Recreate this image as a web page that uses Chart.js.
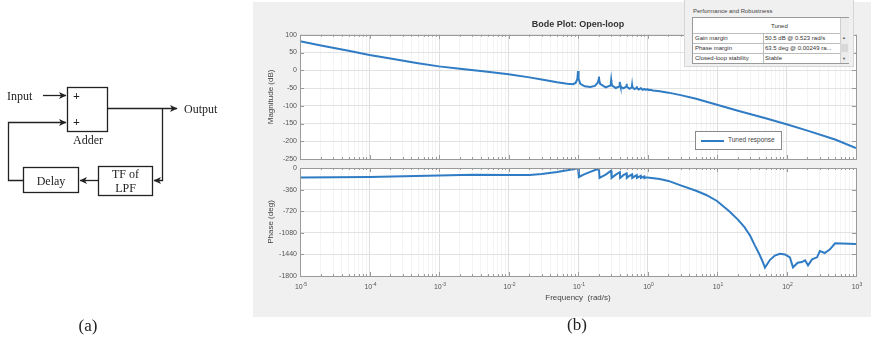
<!DOCTYPE html>
<html>
<head>
<meta charset="utf-8">
<script src="https://cdn.jsdelivr.net/npm/chart.js@4.4.1/dist/chart.umd.min.js"></script>
<style>
  html, body { margin: 0; padding: 0; background: #ffffff; }
  #wrap { position: relative; width: 871px; height: 340px; overflow: hidden; }
  #panel { position: absolute; left: 253px; top: 2px; width: 618px; height: 315px; background: #f0f0f0; }
  canvas { position: absolute; left: 0; top: 0; }
  .t { position: absolute; font-family: 'Liberation Sans', Arial, sans-serif; color: #333; white-space: nowrap; }
</style>
</head>
<body>
<div id="wrap">
  <div id="panel"></div>
  <canvas id="mag" width="871" height="340"></canvas>
  <canvas id="pha" width="871" height="340"></canvas>

  <!-- Legend -->
  <div style="position:absolute;left:695px;top:131px;width:85px;height:17px;background:#fff;border:1px solid #8a8a8a;">
    <div style="position:absolute;left:5px;top:8px;width:23px;height:2px;background:#2f7cc4;"></div>
    <div class="t" id="legendText" style="left:32px;top:4px;font-size:6.5px;color:#444;"></div>
  </div>

  <!-- Performance and Robustness panel -->
  <div style="position:absolute;left:684px;top:0px;width:168px;height:66px;background:#f0f0f0;border:1px solid #d6d6d6;border-top:none;">
    <div class="t" style="left:8px;top:8px;font-size:6px;color:#444;">Performance and Robustness</div>
    <div style="position:absolute;left:7px;top:17px;width:155px;height:45px;background:#fff;border:1px solid #9a9a9a;">
      <div style="position:absolute;left:0;top:15px;width:147px;height:1px;background:#bdbdbd;"></div>
      <div style="position:absolute;left:0;top:25px;width:147px;height:1px;background:#bdbdbd;"></div>
      <div style="position:absolute;left:0;top:35px;width:147px;height:1px;background:#bdbdbd;"></div>
      <div style="position:absolute;left:70px;top:15px;width:1px;height:30px;background:#bdbdbd;"></div>
      <div style="position:absolute;left:147px;top:0;width:8px;height:45px;background:#ececec;border-left:1px solid #cfcfcf;"></div>
      <div style="position:absolute;left:147px;top:26px;width:8px;height:8px;background:#d9d9d9;"></div>
      <div class="t" style="left:149px;top:17px;font-size:4px;color:#555;">▲</div>
      <div class="t" style="left:149px;top:38px;font-size:4px;color:#555;">▼</div>
      <div class="t" style="left:78px;top:5px;font-size:6px;">Tuned</div>
      <div class="t" style="left:2px;top:17px;font-size:6px;">Gain margin</div>
      <div class="t" style="left:2px;top:27px;font-size:6px;">Phase margin</div>
      <div class="t" style="left:2px;top:37px;font-size:6px;">Closed-loop stability</div>
      <div class="t" style="left:72px;top:17px;font-size:6px;">50.5 dB @ 0.523 rad/s</div>
      <div class="t" style="left:72px;top:27px;font-size:6px;">63.5 deg @ 0.00249 ra...</div>
      <div class="t" style="left:72px;top:37px;font-size:6px;">Stable</div>
    </div>
  </div>

  <!-- Block diagram (a) -->
  <svg style="position:absolute;left:0;top:0" width="253" height="340" xmlns="http://www.w3.org/2000/svg">
    <defs>
      <marker id="ah" markerWidth="8" markerHeight="8" refX="7" refY="4" orient="auto" markerUnits="userSpaceOnUse">
        <path d="M0,0.5 L7.5,4 L0,7.5 L2,4 Z" fill="#222"/>
      </marker>
    </defs>
    <g stroke="#222" stroke-width="1.3" fill="none">
      <rect x="67.5" y="87.5" width="40" height="44"/>
      <rect x="98.5" y="166.5" width="54" height="29"/>
      <rect x="23.5" y="167.5" width="55" height="25"/>
      <line x1="43" y1="95.5" x2="66" y2="95.5" marker-end="url(#ah)"/>
      <line x1="107.5" y1="108.5" x2="177" y2="108.5" marker-end="url(#ah)"/>
      <polyline points="162.5,108.5 162.5,180.5 154,180.5" marker-end="url(#ah)"/>
      <line x1="98.5" y1="180.5" x2="80" y2="180.5" marker-end="url(#ah)"/>
      <polyline points="23.5,180.5 8.5,180.5 8.5,122.5 66,122.5" marker-end="url(#ah)"/>
    </g>
    <g font-family="'Liberation Serif', 'DejaVu Serif', serif" fill="#222">
      <text x="7" y="99.5" font-size="12">Input</text>
      <text x="73" y="100" font-size="12" font-weight="bold">+</text>
      <text x="73" y="126" font-size="12" font-weight="bold">+</text>
      <text x="88" y="144" font-size="12" text-anchor="middle">Adder</text>
      <text x="184" y="112.5" font-size="12">Output</text>
      <text x="125.5" y="178" font-size="12" text-anchor="middle">TF of</text>
      <text x="125.5" y="192" font-size="12" text-anchor="middle">LPF</text>
      <text x="51" y="184.5" font-size="12" text-anchor="middle">Delay</text>
      <text x="88" y="331" font-size="17" text-anchor="middle">(a)</text>
      <text x="0" y="0" font-size="1"></text>
    </g>
  </svg>
  <div class="t" style="left:567px;top:315px;font-family:'Liberation Serif',serif;font-size:17px;color:#222;">(b)</div>
</div>

<script>
// ---------------- Data ----------------
const seriesLabel = 'Tuned response';

const freqDecades = [1e-5, 1e-4, 1e-3, 1e-2, 1e-1, 1e0, 1e1, 1e2, 1e3];
const freqTickBase = '10';
const freqTickExponents = ['-5', '-4', '-3', '-2', '-1', '0', '1', '2', '3'];
const magTicks = [100, 50, 0, -50, -100, -150, -200, -250];
const phaseTicks = [0, -360, -720, -1080, -1440, -1800];

const magFreq = [1e-5, 2e-5, 5e-5, 1e-4, 2e-4, 5e-4, 1e-3, 2e-3, 5e-3, 1e-2, 2e-2, 3e-2, 5e-2, 7e-2,
  0.085, 0.093, 0.098, 0.1, 0.102, 0.108, 0.125, 0.15, 0.175, 0.192, 0.198, 0.2, 0.202, 0.208,
  0.25, 0.29, 0.297, 0.3, 0.303, 0.31, 0.35, 0.39, 0.397, 0.4, 0.403, 0.41, 0.45, 0.495, 0.5, 0.505,
  0.55, 0.595, 0.6, 0.605, 0.65, 0.695, 0.7, 0.705, 0.75, 0.795, 0.8, 0.805, 0.85, 0.895, 0.9, 0.905,
  0.95, 1.0, 1.05, 1.1, 1.2, 1.5, 2, 3, 5, 10, 20, 50, 100, 200, 500, 1000];
const magDb = [82, 70, 55, 43, 33, 20, 11, 4, -4, -11, -20, -26, -34, -38,
  -39, -35, -24, -2, -24, -38, -45, -47, -44, -35, -27, -18, -27, -38,
  -48, -43, -35, -27, -35, -43, -50, -46, -40, -33, -40, -46, -51, -46, -38, -46,
  -52, -48, -42, -48, -53, -50, -45, -50, -54, -51, -48, -51, -55, -53, -50, -53,
  -55, -53, -56, -55, -57, -59, -63, -70, -80, -97, -114, -135, -152, -170, -195, -219];

const phaseFreq = [1e-5, 1e-4, 1e-3, 3e-3, 1e-2, 2e-2, 3e-2, 5e-2, 7e-2, 0.09, 0.1, 0.103,
  0.12, 0.15, 0.18, 0.2, 0.204, 0.25, 0.3, 0.304, 0.35, 0.4, 0.404, 0.45, 0.5, 0.504,
  0.55, 0.6, 0.604, 0.65, 0.7, 0.704, 0.75, 0.8, 0.804, 0.85, 0.9, 0.904, 0.95, 1.0,
  1.5, 2, 3, 5, 7, 10, 15, 20, 25, 30, 35, 40, 45, 49, 58, 68, 80, 95, 112, 124,
  145, 166, 185, 204, 233, 275, 302, 355, 422, 500, 1000];
const phaseDeg = [-160, -150, -125, -112, -117, -115, -100, -65, -38, -15, -2, -150,
  -110, -65, -30, -8, -165, -110, -45, -165, -110, -70, -165, -120, -90, -165,
  -130, -105, -165, -140, -120, -165, -148, -130, -165, -153, -140, -168, -160, -160,
  -185, -215, -290, -380, -450, -550, -720, -860, -990, -1130, -1290, -1420, -1550, -1660, -1530, -1460, -1430, -1440, -1490, -1655,
  -1580, -1567, -1539, -1622, -1522, -1489, -1384, -1417, -1356, -1256, -1265];

// ---------------- Styling ----------------
const BLUE = '#2f7cc4';
const FONT = "'Liberation Sans', Arial, sans-serif";
const LABEL = '#555555';
const FRAME = '#9a9a9a';

document.getElementById('legendText').textContent = seriesLabel;

function logTicks(scale) {
  const t = [];
  freqDecades.forEach((d, i) => {
    t.push({ value: d, major: true });
    if (i < freqDecades.length - 1) {
      for (let m = 2; m <= 9; m++) t.push({ value: d * m, major: false });
    }
  });
  scale.ticks = t;
}

const framePlugin = {
  id: 'frame',
  beforeDraw(chart) {
    const a = chart.chartArea, c = chart.ctx;
    c.save(); c.fillStyle = '#ffffff'; c.fillRect(a.left, a.top, a.right - a.left, a.bottom - a.top); c.restore();
  },
  afterDraw(chart, args, opts) {
    const a = chart.chartArea, c = chart.ctx;
    c.save();
    c.strokeStyle = FRAME; c.lineWidth = 1;
    c.beginPath();
    const xs = chart.scales.x;
    xs.ticks.forEach(t => {
      const px = Math.round(xs.getPixelForValue(t.value)) + 0.5;
      const len = t.major ? 4 : 2;
      c.moveTo(px, a.top); c.lineTo(px, a.top + len);
      c.moveTo(px, a.bottom); c.lineTo(px, a.bottom - len);
    });
    const ys = chart.scales.y;
    ys.ticks.forEach(t => {
      const py = Math.round(ys.getPixelForValue(t.value)) + 0.5;
      c.moveTo(a.left, py); c.lineTo(a.left + 4, py);
      c.moveTo(a.right, py); c.lineTo(a.right - 4, py);
    });
    c.stroke();
    c.strokeRect(Math.round(a.left) + 0.5, Math.round(a.top) + 0.5, Math.round(a.right - a.left), Math.round(a.bottom - a.top));
    // decade tick labels with superscript exponents
    if (opts && opts.xLabels) {
      c.fillStyle = LABEL;
      c.textBaseline = 'alphabetic';
      freqDecades.forEach((d, i) => {
        const px = xs.getPixelForValue(d);
        c.font = "7px " + FONT;
        const bw = c.measureText(freqTickBase).width;
        c.font = "5px " + FONT;
        const ew = c.measureText(freqTickExponents[i]).width;
        const x0 = px - (bw + ew) / 2 + 1;
        c.font = "7px " + FONT;
        c.textAlign = 'left';
        c.fillText(freqTickBase, x0, a.bottom + 13);
        c.font = "5px " + FONT;
        c.fillText(freqTickExponents[i], x0 + bw, a.bottom + 9.5);
      });
    }
    c.restore();
  }
};

const gridX = { color: ctx => (ctx.tick && ctx.tick.major) ? '#dedede' : '#f4f4f4', drawTicks: false, lineWidth: 1 };
const gridY = { color: '#e2e2e2', drawTicks: false, lineWidth: 1 };

new Chart(document.getElementById('mag'), {
  type: 'line',
  data: { datasets: [{ label: seriesLabel, data: magFreq.map((f, i) => ({ x: f, y: magDb[i] })),
    borderColor: BLUE, borderWidth: 2, pointRadius: 0, tension: 0, fill: false }] },
  options: {
    responsive: false, animation: false, events: [],
    layout: { padding: { left: 262, right: 15, top: 18, bottom: 181 } },
    plugins: {
      legend: { display: false }, tooltip: { enabled: false },
      frame: { xLabels: false },
      title: { display: true, fullSize: false, text: 'Bode Plot: Open-loop', color: '#333',
        font: { family: FONT, size: 9, weight: 'bold' }, padding: { top: 1, bottom: 5 } }
    },
    scales: {
      x: { type: 'logarithmic', min: 1e-5, max: 1e3, afterBuildTicks: logTicks,
        ticks: { display: false }, grid: gridX, border: { display: false },
        afterFit: s => { s.height = 0; } },
      y: { type: 'linear', min: -250, max: 100,
        afterBuildTicks: s => { s.ticks = magTicks.map(v => ({ value: v })); },
        ticks: { color: LABEL, font: { family: FONT, size: 7 }, padding: 3, callback: v => String(v) },
        grid: gridY, border: { display: false },
        title: { display: true, text: 'Magnitude (dB)', color: '#444', font: { family: FONT, size: 8 }, padding: { top: 4, bottom: 4 } },
        afterFit: s => { s.width = 38; } }
    }
  },
  plugins: [framePlugin]
});

new Chart(document.getElementById('pha'), {
  type: 'line',
  data: { datasets: [{ label: seriesLabel, data: phaseFreq.map((f, i) => ({ x: f, y: phaseDeg[i] })),
    borderColor: BLUE, borderWidth: 2, pointRadius: 0, tension: 0, fill: false }] },
  options: {
    responsive: false, animation: false, events: [],
    layout: { padding: { left: 262, right: 15, top: 168, bottom: 33 } },
    plugins: { legend: { display: false }, tooltip: { enabled: false }, frame: { xLabels: true } },
    scales: {
      x: { type: 'logarithmic', min: 1e-5, max: 1e3, afterBuildTicks: logTicks,
        ticks: { display: false },
        grid: gridX, border: { display: false },
        title: { display: true, text: 'Frequency  (rad/s)', color: '#444', font: { family: FONT, size: 8 }, padding: { top: 4, bottom: 4 } },
        afterFit: s => { s.height = 31; } },
      y: { type: 'linear', min: -1800, max: 0,
        afterBuildTicks: s => { s.ticks = phaseTicks.map(v => ({ value: v })); },
        ticks: { color: LABEL, font: { family: FONT, size: 7 }, padding: 3, callback: v => String(v) },
        grid: gridY, border: { display: false },
        title: { display: true, text: 'Phase (deg)', color: '#444', font: { family: FONT, size: 8 }, padding: { top: 4, bottom: 4 } },
        afterFit: s => { s.width = 38; } }
    }
  },
  plugins: [framePlugin]
});
</script>
</body>
</html>
